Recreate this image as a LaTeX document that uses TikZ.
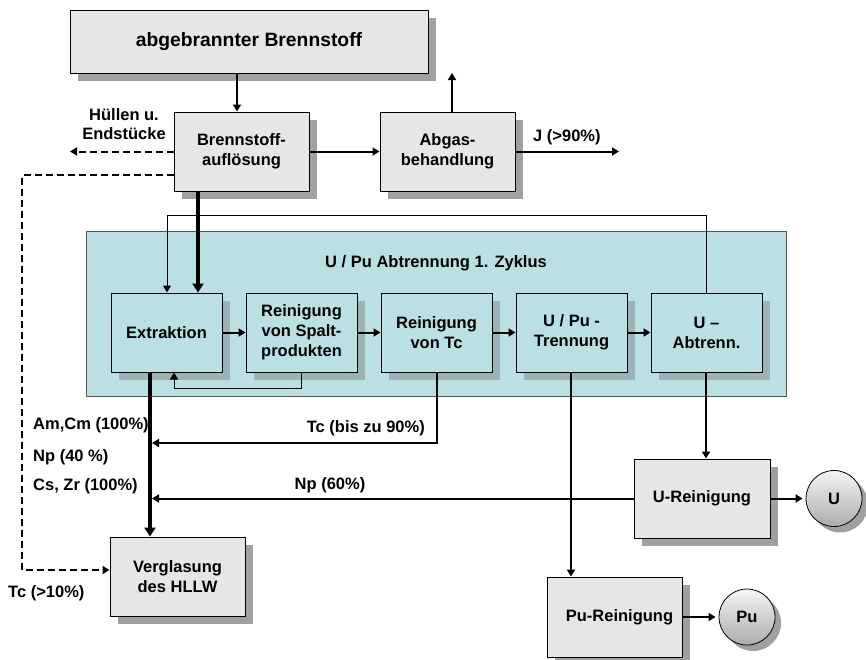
\documentclass[tikz,border=0pt]{standalone}
\usepackage{fontspec}
\setmainfont{Liberation Sans}
\usetikzlibrary{arrows.meta,shadows}

\definecolor{boxgray}{HTML}{E6E6E6}
\definecolor{shadegray}{HTML}{A0A0A0}
\definecolor{panelcyan}{HTML}{BBE0E3}
\definecolor{shadecyan}{HTML}{9DB2B4}
\definecolor{panelline}{HTML}{555555}

\tikzset{
  txt/.style={font=\bfseries\fontsize{16.5}{19.8}\selectfont},
  graybox/.style={txt, draw=black, line width=1pt, fill=boxgray, align=center,
    inner sep=0pt, minimum width=135pt, minimum height=79pt,
    drop shadow={shadow xshift=8pt, shadow yshift=-8pt, fill=shadegray, opacity=1}},
  cyanbox/.style={txt, draw=black, line width=1pt, fill=panelcyan, align=center,
    inner sep=0pt, minimum width=111pt, minimum height=79pt,
    drop shadow={shadow xshift=8pt, shadow yshift=-8pt, fill=shadecyan, opacity=1}},
  orb/.style={txt, circle, draw=black, line width=0.8pt, minimum size=56pt, inner sep=0pt,
    top color=gray!8, bottom color=gray!65,
    drop shadow={shadow xshift=6pt, shadow yshift=-6pt, fill=shadegray, opacity=1}},
  lbl/.style={txt, inner sep=0pt},
  arr/.style={line width=2pt, -{Triangle[length=7pt,width=8pt]}},
  thinarr/.style={line width=1pt, -{Triangle[length=7pt,width=8pt]}},
  thickarr/.style={line width=4pt, -{Triangle[length=9pt,width=11pt]}},
  dasharr/.style={line width=2pt, dash pattern=on 7pt off 4pt, -{Triangle[length=7pt,width=8pt]}},
}

\begin{document}
\begin{tikzpicture}[x=1pt,y=-1pt]
\useasboundingbox (0,0) rectangle (866,659);

% cyan frame of the first cycle
\node[draw=panelline, line width=0.8pt, fill=panelcyan, minimum width=700pt,
      minimum height=165pt, inner sep=0pt] (panel) at (436,313.5) {};
\node[lbl] (ptitle) at (436,263) {U / Pu Abtrennung 1. Zyklus};

% column and bend coordinates
\coordinate (c237) at (237,0);
\coordinate (c452) at (452,0);
\coordinate (c198) at (198,0);
\coordinate (c150) at (150,0);
\coordinate (c301) at (301,0);
\coordinate (c571) at (571,0);
\coordinate (c706) at (706,0);
\coordinate (fb)   at (174,388);
\coordinate (lp)   at (167,215);
\coordinate (d1)   at (0,175);
\coordinate (d2)   at (22,570);
\coordinate (gasup) at (452,73);
\coordinate (jend) at (619,151.5);
\coordinate (hend) at (70,151.5);
\coordinate (tcend) at (152,443);
\coordinate (npend) at (152,498.5);

% boxes
\node[graybox, minimum width=358pt, minimum height=63pt,
      font=\bfseries\fontsize{19.3}{23}\selectfont] (top) at (249,41.5) {abgebrannter Brennstoff};
\node[graybox] (brenn) at (241.5,151.5) {Brennstoff-\\auflösung};
\node[graybox] (abgas) at (447.5,151.5) {Abgas-\\behandlung};

\node[cyanbox] (extr) at (166.5,332.5) {Extraktion};
\node[cyanbox] (rsp)  at (301.5,332.5) {Reinigung\\von Spalt-\\produkten};
\node[cyanbox] (rtc)  at (436.5,332.5) {Reinigung\\von Tc};
\node[cyanbox] (upt)  at (571.5,332.5) {U / Pu -\\Trennung};
\node[cyanbox] (uab)  at (706.5,332.5) {U –\\Abtrenn.};

\node[graybox] (vergl) at (177.5,576.5) {Verglasung\\des HLLW};
\node[graybox, minimum width=136pt] (urein) at (702,498.5) {U-Reinigung};
\node[graybox, minimum width=135pt, minimum height=80pt] (purein) at (614.5,617) {\hspace*{10pt}Pu-Reinigung};

\node[orb] (ucirc)  at (834,498.5) {U};
\node[orb] (pucirc) at (747,617) {Pu};

% labels
\node[lbl, align=center] (huell) at (124,124) {Hüllen u.\\Endstücke};
\node[lbl, anchor=west] (jlbl) at (533,137) {J (>90\%)};
\node[lbl, anchor=east] (tclbl) at (425,428) {Tc (bis zu 90\%)};
\node[lbl] (np60) at (330,485) {Np (60\%)};
\node[lbl, anchor=west] (amcm) at (33,425) {Am,Cm (100\%)};
\node[lbl, anchor=west] (np40) at (33,457) {Np (40 \%)};
\node[lbl, anchor=west] (cszr) at (33,486) {Cs, Zr (100\%)};
\node[lbl, anchor=west] (tc10) at (8,593) {Tc (>10\%)};

% head end
\draw[arr] (top.south -| c237) -- (brenn.north -| c237);
\draw[arr] (brenn.east) -- (abgas.west);
\draw[arr] (abgas.north -| c452) -- (gasup);
\draw[arr] (abgas.east) -- (jend);
\draw[dasharr] (brenn.west) -- (hend);
\draw[dasharr] (brenn.west |- d1) -| (d2) -- (vergl.west |- d2);
\draw[thickarr] (brenn.south -| c198) -- (extr.north -| c198);

% recycle loop from U separation back to extraction
\draw[thinarr] (uab.north) |- (lp) -- (extr.north -| lp);

% chain inside the first cycle
\draw[arr] (extr.east) -- (rsp.west);
\draw[arr] (rsp.east) -- (rtc.west);
\draw[arr] (rtc.east) -- (upt.west);
\draw[arr] (upt.east) -- (uab.west);
\draw[thinarr] (rsp.south -| c301) |- (fb) -- (extr.south -| fb);

% waste and product streams
\draw[thickarr] (extr.south -| c150) -- (vergl.north -| c150);
\draw[arr] (rtc.south) |- (tcend);
\draw[arr] (urein.west) -- (npend);
\draw[arr] (upt.south -| c571) -- (purein.north -| c571);
\draw[arr] (uab.south -| c706) -- (urein.north -| c706);
\draw[arr, shorten >=3pt] (urein.east) -- (ucirc.west);
\draw[arr, shorten >=3pt] (purein.east) -- (pucirc.west);
\end{tikzpicture}
\end{document}
